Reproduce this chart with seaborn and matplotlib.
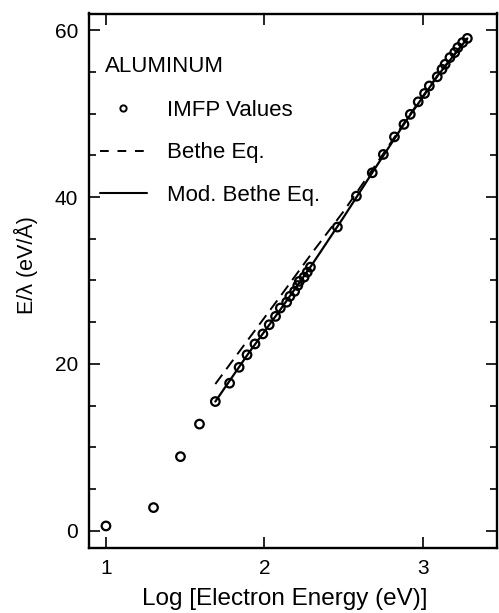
import matplotlib
matplotlib.use("Agg")
import matplotlib.pyplot as plt
import seaborn as sns
from matplotlib.lines import Line2D
from matplotlib.ticker import MultipleLocator

# ---- data ----
log_energy = [1.00, 1.30, 1.47, 1.59,
              1.69, 1.78, 1.84, 1.89, 1.94, 1.99, 2.03, 2.07, 2.10, 2.14, 2.16,
              2.19, 2.21, 2.22, 2.25, 2.27, 2.29,
              2.46, 2.58, 2.68, 2.75, 2.82, 2.88, 2.92, 2.97, 3.01, 3.04, 3.09,
              3.12, 3.14, 3.17, 3.20, 3.22, 3.25, 3.28]
e_over_lambda = [0.6, 2.8, 8.9, 12.8,
                 15.5, 17.7, 19.6, 21.1, 22.4, 23.6, 24.7, 25.7, 26.7, 27.4, 28.1,
                 28.7, 29.4, 29.9, 30.4, 31.0, 31.6,
                 36.4, 40.1, 42.9, 45.1, 47.2, 48.7, 49.9, 51.4, 52.4, 53.3, 54.4,
                 55.3, 55.9, 56.7, 57.3, 57.9, 58.5, 59.0]

line_x = [1.69, 1.90, 2.10, 2.30, 2.50, 2.70, 2.90, 3.10, 3.28]
bethe_y = [17.6, 23.0, 28.1, 33.3, 38.3, 43.8, 49.4, 54.8, 59.0]
mod_bethe_y = [15.5, 21.3, 26.5, 31.9, 37.6, 43.5, 49.3, 54.7, 59.0]

x_ticks = [1, 2, 3]
y_ticks = [0, 20, 40, 60]
legend_labels = ["IMFP Values", "Bethe Eq.", "Mod. Bethe Eq."]
title_text = "ALUMINUM"
x_label = "Log [Electron Energy (eV)]"
y_label = "E/λ (eV/Å)"

# ---- style ----
sns.set_theme(style="ticks")
plt.rcParams['font.family'] = ['Liberation Sans', 'DejaVu Sans']
plt.rcParams['text.color'] = 'black'
plt.rcParams['axes.labelcolor'] = 'black'
plt.rcParams['xtick.color'] = 'black'
plt.rcParams['ytick.color'] = 'black'

fig = plt.figure(figsize=(4.99, 6.13), dpi=100)
ax = fig.add_axes([89/499, 65/613, 408/499, 534.5/613])

sns.lineplot(x=line_x, y=mod_bethe_y, ax=ax, color='black', linewidth=1.6, sort=True)
sns.lineplot(x=line_x, y=bethe_y, ax=ax, color='black', linewidth=1.4, sort=True)
ax.lines[-1].set_dashes((6, 3.5))
sns.scatterplot(x=log_energy, y=e_over_lambda, ax=ax, marker='o', s=38,
                facecolor='none', edgecolor='black', linewidth=1.6, zorder=3)

ax.set_xlim(0.893, 3.467)
ax.set_ylim(-2.04, 61.98)
ax.set_xticks(x_ticks)
ax.set_yticks(y_ticks)
ax.yaxis.set_minor_locator(MultipleLocator(5))
ax.tick_params(which='both', direction='in', top=True, right=True,
               labelsize=15, width=1.2, pad=8, colors='black',
               labelcolor='black')
ax.tick_params(which='major', length=8)
ax.tick_params(which='minor', length=5)
for s in ax.spines.values():
    s.set_linewidth(1.7)
    s.set_color('black')

ax.set_xlabel(x_label, fontsize=17.5, labelpad=8, color='black')
ax.set_ylabel(y_label, fontsize=15.5, color='black')
ax.xaxis.set_label_coords((284.5 - 89) / 408, -0.075)
ax.yaxis.set_label_coords(-0.125, 0.53)

ax.text((105 - 89) / 408, (548 - 72) / 534.5, title_text, transform=ax.transAxes,
        fontsize=16, va='baseline', ha='left', color='black')

handles = [
    Line2D([], [], marker='o', ls='none', mfc='none', mec='black', ms=4.5, mew=1.4),
    Line2D([], [], color='black', lw=1.4, dashes=(4.5, 4.5)),
    Line2D([], [], color='black', lw=1.5),
]
leg = ax.legend(handles, legend_labels, loc='upper left',
                bbox_to_anchor=((100 - 89) / 408, 0.838), borderpad=0, borderaxespad=0,
                frameon=False, fontsize=16, handlelength=2.1, handletextpad=0.9,
                labelspacing=0.96)
for t in leg.get_texts():
    t.set_color('black')

fig.savefig('out.png', dpi=100)
